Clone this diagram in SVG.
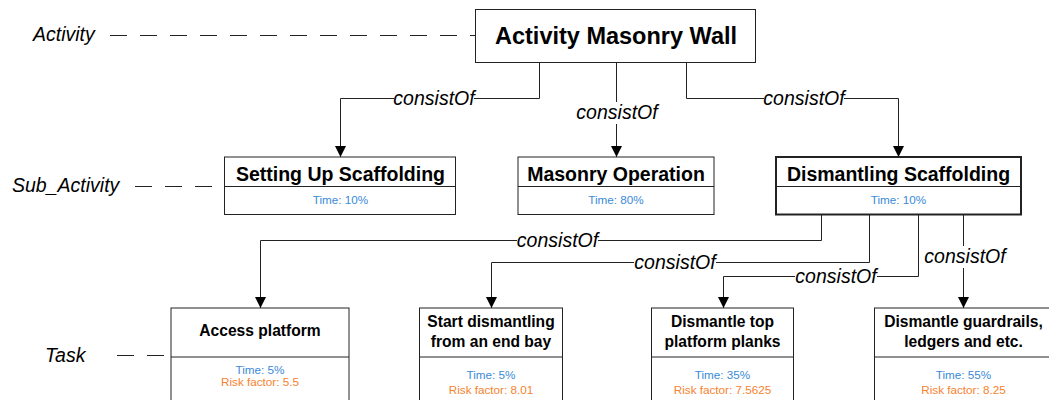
<svg xmlns="http://www.w3.org/2000/svg" width="1049" height="400" viewBox="0 0 1049 400">
<style>
text{font-family:"Liberation Sans",Arial,sans-serif;}
.box{fill:#fff;stroke:#222;stroke-width:1;}
.bold{stroke-width:2;}
.div{stroke:#222;stroke-width:1;}
.t1{font-size:23.5px;font-weight:bold;fill:#000;text-anchor:middle;}
.t2{font-size:19.5px;font-weight:bold;fill:#000;text-anchor:middle;}
.t3{font-size:15.6px;font-weight:bold;fill:#000;text-anchor:middle;}
.tm{font-size:11.7px;fill:#3a8ad8;text-anchor:middle;}
.rk{font-size:11.7px;fill:#f5822f;text-anchor:middle;}
.lvl{font-size:19.5px;font-style:italic;fill:#000;}
.lab{font-size:19.5px;font-style:italic;fill:#000;text-anchor:middle;}
.conn{fill:none;stroke:#222;stroke-width:1;}
.dash{fill:none;stroke:#222;stroke-width:1;stroke-dasharray:17 13;}
.bg{fill:#fff;}
</style>
<defs>
<marker id="arr" markerUnits="userSpaceOnUse" markerWidth="11" markerHeight="11" viewBox="0 0 11 11" refX="11" refY="5.5" orient="auto">
<path d="M0,0 L11,5.5 L0,11 Z" fill="#000"/>
</marker>
</defs>

<g id="levels">
<text class="lvl" x="33" y="41">Activity</text>
<path class="dash" d="M110,35.5 H475"/>
<text class="lvl" x="12" y="192">Sub_Activity</text>
<path class="dash" d="M135,186.5 H224"/>
<text class="lvl" x="45" y="362">Task</text>
<path class="dash" d="M117,355.5 H171"/>
</g>

<g id="connectors">
<path class="conn" d="M539.5,62.5 V98.5 H340.5 V157" marker-end="url(#arr)"/>
<path class="conn" d="M616.5,62.5 V157" marker-end="url(#arr)"/>
<path class="conn" d="M686.5,62.5 V98.5 H898.5 V157" marker-end="url(#arr)"/>
<path class="conn" d="M821.5,214.5 V240.5 H260.5 V308" marker-end="url(#arr)"/>
<path class="conn" d="M869.5,214.5 V262.5 H491.5 V308" marker-end="url(#arr)"/>
<path class="conn" d="M918.5,214.5 V276.5 H723.5 V308" marker-end="url(#arr)"/>
<path class="conn" d="M963.5,214.5 V308" marker-end="url(#arr)"/>
<rect class="bg" x="394" y="89" width="80" height="19"/>
<text class="lab" x="434" y="104.5">consistOf</text>
<rect class="bg" x="576" y="102" width="82" height="22"/>
<text class="lab" x="617" y="118.5">consistOf</text>
<rect class="bg" x="764" y="89" width="80" height="19"/>
<text class="lab" x="804" y="104.5">consistOf</text>
<rect class="bg" x="517" y="231" width="81" height="19"/>
<text class="lab" x="557.5" y="246.5">consistOf</text>
<rect class="bg" x="634" y="253" width="82" height="19"/>
<text class="lab" x="675" y="268.5">consistOf</text>
<rect class="bg" x="795" y="267" width="82" height="19"/>
<text class="lab" x="836" y="282.5">consistOf</text>
<rect class="bg" x="924" y="246" width="82" height="22"/>
<text class="lab" x="965" y="263">consistOf</text>
</g>

<g id="n-activity">
<rect class="box" x="475.5" y="9.5" width="280" height="53"/>
<text class="t1" x="616" y="44">Activity Masonry Wall</text>
</g>

<g id="n-setup">
<rect class="box" x="224.5" y="157" width="231" height="57.5"/>
<line class="div" x1="224.5" y1="186.5" x2="455.5" y2="186.5"/>
<text class="t2" x="340.5" y="181">Setting Up Scaffolding</text>
<text class="tm" x="340.5" y="204">Time: 10%</text>
</g>

<g id="n-masonry">
<rect class="box" x="518" y="157" width="196" height="57.5"/>
<line class="div" x1="518" y1="186.5" x2="714" y2="186.5"/>
<text class="t2" x="616" y="181">Masonry Operation</text>
<text class="tm" x="616" y="204">Time: 80%</text>
</g>

<g id="n-dismantling">
<rect class="box bold" x="776" y="157" width="245" height="57.5"/>
<line class="div" x1="776" y1="186.5" x2="1021" y2="186.5"/>
<text class="t2" x="898.5" y="181">Dismantling Scaffolding</text>
<text class="tm" x="898.5" y="204">Time: 10%</text>
</g>

<g id="n-access">
<rect class="box" x="171" y="308" width="178" height="100"/>
<line class="div" x1="171" y1="357" x2="349" y2="357"/>
<text class="t3" x="260" y="336">Access platform</text>
<text class="tm" x="260" y="374">Time: 5%</text>
<text class="rk" x="260" y="385.5">Risk factor: 5.5</text>
</g>

<g id="n-start">
<rect class="box" x="419.5" y="308" width="143" height="100"/>
<line class="div" x1="419.5" y1="357" x2="562.5" y2="357"/>
<text class="t3" x="491" y="326.5">Start dismantling</text>
<text class="t3" x="491" y="347">from an end bay</text>
<text class="tm" x="491" y="379">Time: 5%</text>
<text class="rk" x="491" y="394.3">Risk factor: 8.01</text>
</g>

<g id="n-top">
<rect class="box" x="651.5" y="308" width="142" height="100"/>
<line class="div" x1="651.5" y1="357" x2="793.5" y2="357"/>
<text class="t3" x="722.5" y="326.5">Dismantle top</text>
<text class="t3" x="722.5" y="347">platform planks</text>
<text class="tm" x="722.5" y="379">Time: 35%</text>
<text class="rk" x="722.5" y="394.3">Risk factor: 7.5625</text>
</g>

<g id="n-guard">
<rect class="box" x="874.5" y="308" width="178" height="100"/>
<line class="div" x1="874.5" y1="357" x2="1052.5" y2="357"/>
<text class="t3" x="963.5" y="326.5">Dismantle guardrails,</text>
<text class="t3" x="963.5" y="347">ledgers and etc.</text>
<text class="tm" x="963.5" y="379">Time: 55%</text>
<text class="rk" x="963.5" y="394.3">Risk factor: 8.25</text>
</g>
</svg>
